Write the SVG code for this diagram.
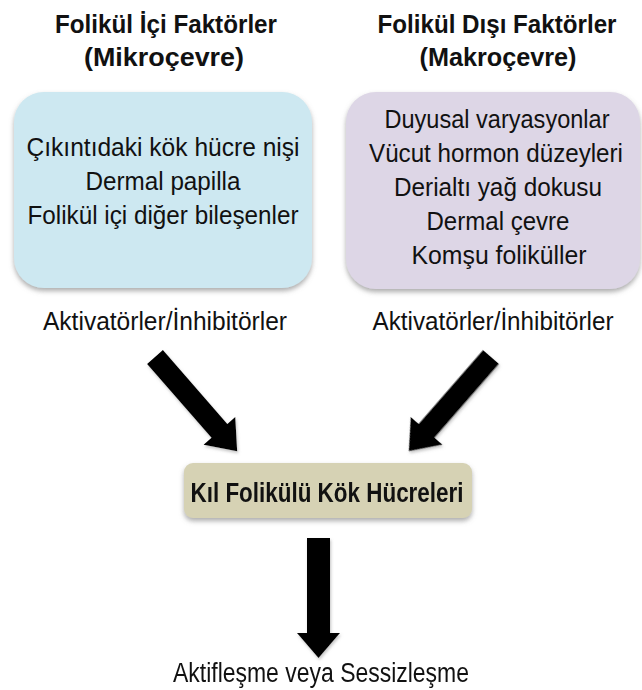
<svg xmlns="http://www.w3.org/2000/svg" width="642" height="690" viewBox="0 0 642 690">
<defs>
<style>
text{font-family:"Liberation Sans",Arial,sans-serif;fill:#111;text-anchor:middle;font-size:26.5px}
.b{font-weight:bold;font-size:25.5px}
.arrow{fill:#000}
</style>
<filter id="sh" x="-10%" y="-10%" width="120%" height="130%">
<feDropShadow dx="0" dy="3" stdDeviation="2.5" flood-color="#777" flood-opacity="0.6"/>
</filter>
<filter id="ash" x="-20%" y="-20%" width="140%" height="140%">
<feDropShadow dx="1" dy="2" stdDeviation="1.5" flood-color="#888" flood-opacity="0.5"/>
</filter>
</defs>
<rect width="642" height="690" fill="#fff"/>

<g id="title-left">
<text class="b" x="166" y="33" textLength="222" lengthAdjust="spacingAndGlyphs">Folikül İçi Faktörler</text>
<text class="b" x="164" y="66" textLength="160" lengthAdjust="spacingAndGlyphs">(Mikroçevre)</text>
</g>
<g id="title-right">
<text class="b" x="497" y="33" textLength="239" lengthAdjust="spacingAndGlyphs">Folikül Dışı Faktörler</text>
<text class="b" x="498" y="66" textLength="157" lengthAdjust="spacingAndGlyphs">(Makroçevre)</text>
</g>

<g id="node-micro">
<rect x="14" y="92" width="298" height="196" rx="30" fill="#cde8f1" filter="url(#sh)"/>
<text x="163" y="156" textLength="273" lengthAdjust="spacingAndGlyphs">Çıkıntıdaki kök hücre nişi</text>
<text x="163" y="190" textLength="155" lengthAdjust="spacingAndGlyphs">Dermal papilla</text>
<text x="163" y="224" textLength="271" lengthAdjust="spacingAndGlyphs">Folikül içi diğer bileşenler</text>
</g>

<g id="node-macro">
<rect x="346" y="92" width="294" height="197" rx="30" fill="#ddd6e6" filter="url(#sh)"/>
<text x="497" y="128" textLength="225" lengthAdjust="spacingAndGlyphs">Duyusal varyasyonlar</text>
<text x="496" y="162" style="font-size:25px" textLength="254" lengthAdjust="spacingAndGlyphs">Vücut hormon düzeyleri</text>
<text x="498" y="196" textLength="208" lengthAdjust="spacingAndGlyphs">Derialtı yağ dokusu</text>
<text x="498" y="230" textLength="143" lengthAdjust="spacingAndGlyphs">Dermal çevre</text>
<text x="499" y="264" textLength="175" lengthAdjust="spacingAndGlyphs">Komşu foliküller</text>
</g>

<g id="label-left">
<text x="165" y="330" textLength="244" lengthAdjust="spacingAndGlyphs">Aktivatörler/İnhibitörler</text>
</g>
<g id="label-right">
<text x="493" y="330" textLength="241" lengthAdjust="spacingAndGlyphs">Aktivatörler/İnhibitörler</text>
</g>

<g id="connectors" filter="url(#ash)">
<polygon class="arrow" transform="translate(155,357) rotate(48.9)" points="0,-10.5 98,-10.5 98,-21 125,0 98,21 98,10.5 0,10.5"/>
<polygon class="arrow" transform="translate(491,357) rotate(131.1)" points="0,-10.5 98,-10.5 98,-21 125,0 98,21 98,10.5 0,10.5"/>
<polygon class="arrow" points="307,538 330,538 330,633 340,633 318.5,658 297,633 307,633"/>
</g>

<g id="node-stem">
<rect x="184" y="463" width="288" height="55" rx="9" fill="#d6d2b4" filter="url(#sh)"/>
<text class="b" x="327" y="502" style="font-size:28px" textLength="273" lengthAdjust="spacingAndGlyphs">Kıl Folikülü Kök Hücreleri</text>
</g>

<g id="label-outcome">
<text x="321" y="682" style="font-size:27px" textLength="296" lengthAdjust="spacingAndGlyphs">Aktifleşme veya Sessizleşme</text>
</g>
</svg>
